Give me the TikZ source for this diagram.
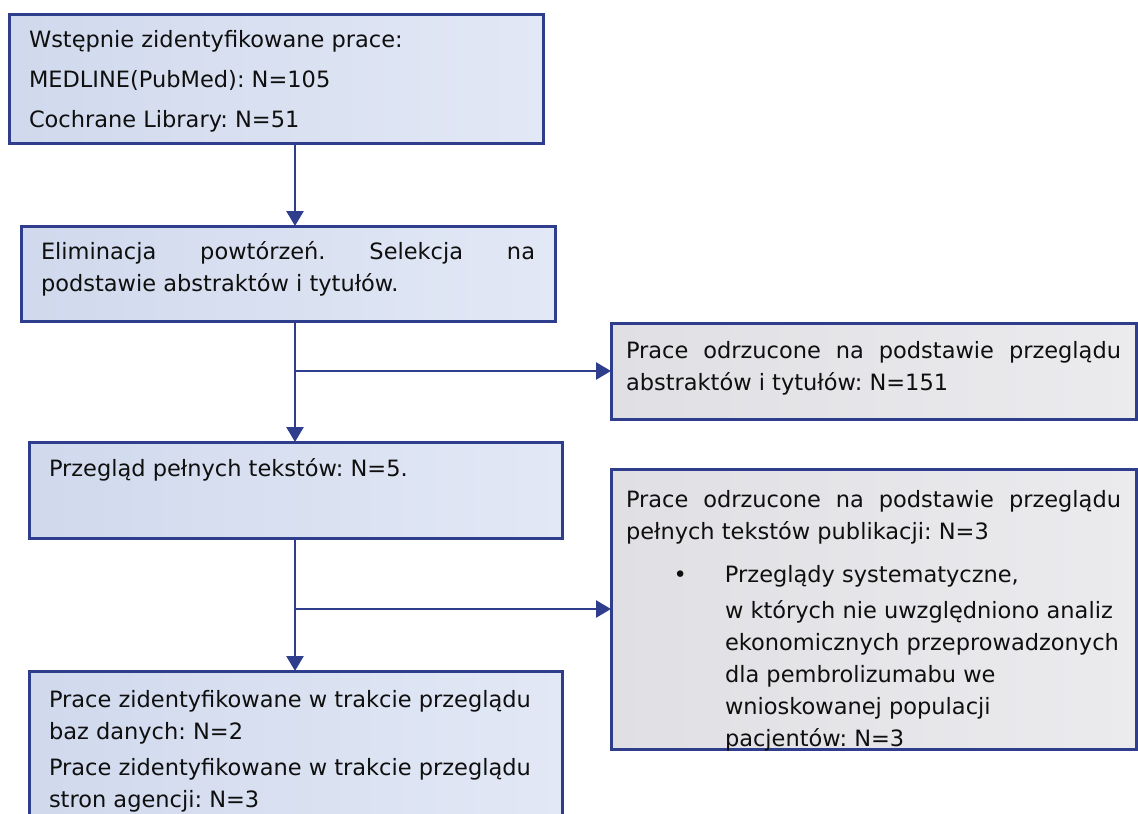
\documentclass[tikz,border=0pt]{standalone}
\usepackage{fontspec}
\setmainfont{DejaVu Sans}
\usetikzlibrary{arrows.meta}
\frenchspacing
\definecolor{boxline}{RGB}{47,62,140}
\definecolor{ink}{RGB}{15,15,15}
\definecolor{blueA}{RGB}{208,217,237}
\definecolor{blueB}{RGB}{226,232,245}
\definecolor{greyA}{RGB}{224,224,228}
\definecolor{greyB}{RGB}{235,235,238}
\begin{document}
\begin{tikzpicture}[x=1pt, y=-1pt,
    box/.style={draw=boxline, line width=3pt, outer sep=0pt, inner xsep=20pt, inner ysep=0pt,
      anchor=north west, align=justify, text=ink, font=\fontsize{22.5}{32}\selectfont},
    lbox/.style={box, left color=blueA, right color=blueB},
    rbox/.style={box, inner xsep=15pt, left color=greyA, right color=greyB},
    arr/.style={draw=boxline, line width=2.5pt, -{Triangle[width=17pt,length=15pt]}}]
      \useasboundingbox (0,0) rectangle (1138,814);
      \clip (0,0) rectangle (1138,814);
      \coordinate (spine) at (295,0);
      \node (1) at (9,14) [lbox, text width=494pt, text height=33pt, text depth=96pt]
        {Wstępnie zidentyfikowane prace:\\[8pt] MEDLINE(PubMed): N=105\\[8pt] Cochrane Library: N=51};
      \node (2) at (21,226) [lbox, text width=494pt, text height=33pt, text depth=62pt]
        {Eliminacja powtórzeń. Selekcja na\linebreak podstawie abstraktów i tytułów.};
      \node (3) at (29,442) [lbox, text width=493pt, text height=34pt, text depth=62pt]
        {Przegląd pełnych tekstów: N=5.};
      \node (4) at (29,671) [lbox, text width=493pt, text height=36pt, text depth=153pt]
        {Prace zidentyfikowane w trakcie przeglądu\\ baz danych: N=2\\[4pt] Prace zidentyfikowane w trakcie przeglądu\\ stron agencji: N=3};
      \node (5) at (611,323) [rbox, text width=495pt, text height=35pt, text depth=61pt]
        {Prace odrzucone na podstawie przeglądu\linebreak abstraktów i tytułów: N=151};
      \node (6) at (611,469) [rbox, text width=495pt, text height=38pt, text depth=242pt]
        {Prace odrzucone na podstawie przeglądu\linebreak pełnych tekstów publikacji: N=3\par\vspace{11pt}
         {\leftskip=99pt \noindent\llap{\textbullet\hspace{38pt}}Przeglądy systematyczne,\\[4pt] w których nie uwzględniono analiz\\ ekonomicznych przeprowadzonych\\ dla pembrolizumabu we\\ wnioskowanej populacji\\ pacjentów: N=3\par}};
      \foreach \source/\dest in {1/2, 2/3, 3/4}
        \draw [arr] (\source.south -| spine) -- (\dest.north -| spine);
      \foreach \source/\dest in {2/5, 3/6}
        \draw [arr] (spine |- \dest.west) -- (\dest.west);
    \end{tikzpicture}
\end{document}
